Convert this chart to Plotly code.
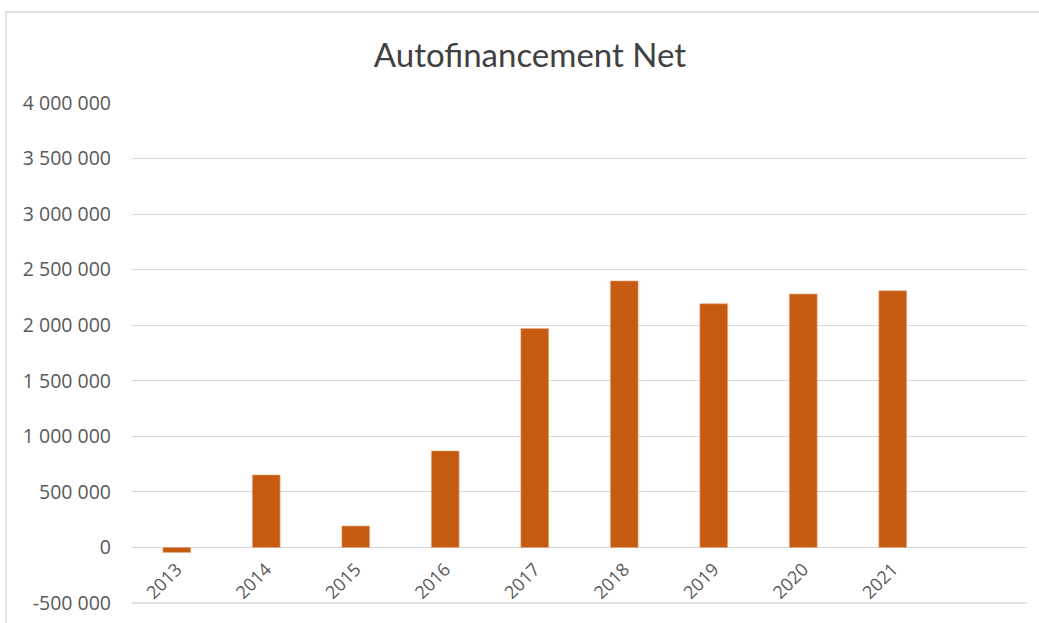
import plotly.graph_objects as go

years = ["2013", "2014", "2015", "2016", "2017", "2018", "2019", "2020", "2021"]
values = [-45000, 652000, 193000, 868000, 1970000, 2398000, 2193000, 2281000, 2310000]
ytick_vals = [-500000, 0, 500000, 1000000, 1500000, 2000000, 2500000, 3000000, 3500000, 4000000]
ytick_labels = ["-500 000", "0", "500 000", "1 000 000", "1 500 000", "2 000 000",
                "2 500 000", "3 000 000", "3 500 000", "4 000 000"]
y_min, y_max = -500000, 4000000
n_slots = 10

W, H = 1039, 623
ml, mr, mt, mb = 132, 12, 103, 20
pw, ph = W - ml - mr, H - mt - mb

fig = go.Figure(go.Bar(
    x=years, y=values,
    marker=dict(color="#C55A11", line=dict(color="#E9A77E", width=0.6)),
    width=0.31,
    hoverinfo="x+y",
))

grid = "#D9D9D9"
fig.update_layout(
    width=W, height=H,
    margin=dict(l=ml, r=mr, t=mt, b=mb),
    paper_bgcolor="white", plot_bgcolor="white",
    showlegend=False,
    font=dict(family="Open Sans, sans-serif", color="#595959"),
    title=dict(text="Autofinancement Net", x=530 / W, xref="container", xanchor="center",
               y=1 - 55 / H, yref="container", yanchor="middle",
               font=dict(size=33, color="#404040", family="Lato, sans-serif")),
    xaxis=dict(
        type="category", categoryorder="array", categoryarray=years,
        range=[-0.5, n_slots - 0.5],
        anchor="free", position=(0 - y_min) / (y_max - y_min),
        showgrid=False, showline=False, zeroline=False, ticks="",
        tickangle=-45, tickfont=dict(size=18, color="#595959"),
        ticklabelstandoff=7,
        automargin=False,
    ),
    yaxis=dict(
        range=[y_min, y_max], tickvals=ytick_vals, ticktext=ytick_labels,
        showgrid=True, gridcolor=grid, gridwidth=1.3,
        zeroline=True, zerolinecolor=grid, zerolinewidth=1.3,
        showline=False, ticks="", ticklabelstandoff=20,
        ticklabeloverflow="allow",
        tickfont=dict(size=19.5, color="#595959"),
        automargin=False,
    ),
    shapes=[
        dict(type="rect", xref="paper", yref="paper",
             x0=(6 - ml) / pw, x1=(W + 30 - ml) / pw,
             y0=-0.2, y1=(H - mb - 12) / ph,
             line=dict(color=grid, width=1.3), fillcolor="rgba(0,0,0,0)", layer="below"),
        # bottom gridline at the axis minimum (plotly skips the edge gridline)
        dict(type="line", xref="paper", yref="paper", x0=0, x1=1, y0=0, y1=0,
             line=dict(color=grid, width=1.3), layer="below"),
    ],
)

fig.write_html("out.html", post_script="document.body.style.margin='0';",
               config={"displayModeBar": False})
